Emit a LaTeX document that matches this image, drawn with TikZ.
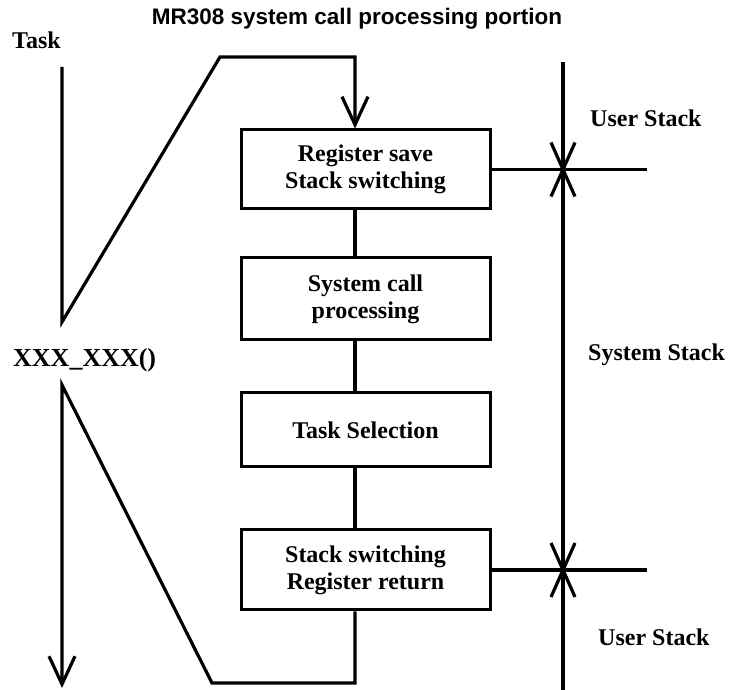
\documentclass[tikz,border=0pt]{standalone}
\usepackage{fontspec}
\setmainfont{Liberation Serif}
\setsansfont{Liberation Sans}
\usetikzlibrary{arrows.meta,calc}
\begin{document}
\begin{tikzpicture}[x=1pt,y=1pt,
  ln/.style={line width=3.2pt},
  boxnode/.style={draw,line width=3pt,minimum width=249pt,inner sep=0pt,align=center,font=\bfseries\fontsize{24}{27}\selectfont},
  lbl/.style={font=\bfseries\fontsize{24}{27}\selectfont,inner sep=0pt},
  tip/.style={-{Straight Barb[length=28pt,width=26pt]}}]
\useasboundingbox (0,0) rectangle (742,690);
% boxes
\node[boxnode,minimum height=79pt] (b1) at (365.5,520.5) {Register save\\Stack switching};
\node[boxnode,minimum height=82pt] (b2) at (365.5,391) {System call\\processing};
\node[boxnode,minimum height=74pt] (b3) at (365.5,260) {Task Selection};
\node[boxnode,minimum height=80pt] (b4) at (365.5,120) {Stack switching\\Register return};
\coordinate (cx) at (355,0);
% labels
\node[lbl,anchor=west] (task) at (12,650) {Task};
\node[font=\sffamily\bfseries\fontsize{22.5}{26}\selectfont,inner sep=0pt] (title) at (357,671) {MR308 system call processing portion};
\node[lbl,anchor=west,font=\bfseries\fontsize{26}{30}\selectfont] (func) at (13,330) {XXX\_XXX()};
\node[lbl,anchor=west] (us1) at (590,572) {User Stack};
\node[lbl,anchor=west] (ss) at (588,335) {System Stack};
\node[lbl,anchor=west] (us2) at (598,53) {User Stack};
% task flow
\coordinate (t0) at (62,623);
\coordinate (t1) at (62,368);
\coordinate (t2) at (220,633);
\coordinate (t3) at (355,633);
\draw[ln,tip,line join=miter] (t0) -- (t1) -- (t2) -- (t3) -- (b1.north -| cx);
\draw[ln] (b1.south -| cx) -- (b2.north -| cx);
\draw[ln] (b2.south -| cx) -- (b3.north -| cx);
\draw[ln] (b3.south -| cx) -- (b4.north -| cx);
\coordinate (r1) at (355,7);
\coordinate (r2) at (212,7);
\coordinate (r3) at (62,305);
\coordinate (r4) at (62,2);
\draw[ln,tip] (b4.south -| cx) -- (r1) -- (r2) -- (r3) -- (r4);
% stacks
\coordinate (vtop) at (563,628);
\coordinate (vbot) at (563,0);
\draw[ln] (vtop) -- (vbot);
\coordinate (x1) at (563,520.5);
\coordinate (x2) at (563,120);
\coordinate (h1) at (647,520.5);
\coordinate (h2) at (647,120);
\draw[ln] (b1.east) -- (h1);
\draw[ln] (b4.east) -- (h2);
\foreach \c in {x1,x2}{
  \draw[ln] ($(\c)+(-12,27)$) -- ($(\c)+(12,-27)$);
  \draw[ln] ($(\c)+(12,27)$) -- ($(\c)+(-12,-27)$);
}
\end{tikzpicture}
\end{document}
